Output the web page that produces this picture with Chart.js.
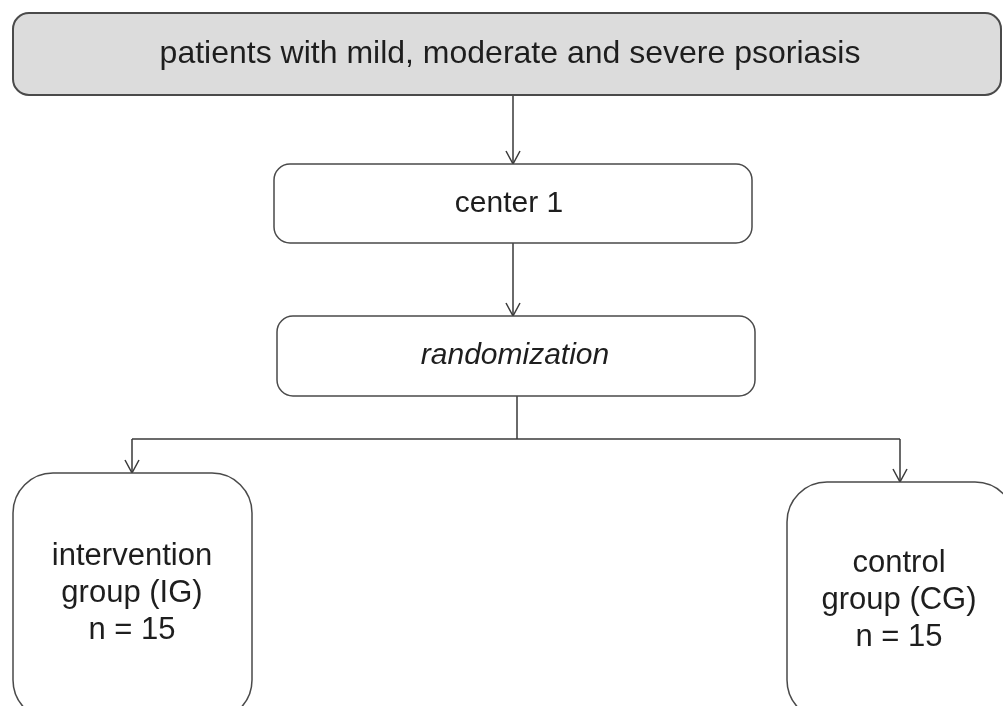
<!DOCTYPE html>
<html>
<head>
<meta charset="utf-8">
<script src="https://cdn.jsdelivr.net/npm/chart.js@4"></script>
<style>
  body { margin: 0; background: #fff; }
  #wrap { width: 1003px; height: 706px; }
</style>
</head>
<body>
<div id="wrap"><canvas id="flow" width="1003" height="706"></canvas></div>
<script>
// flowchart nodes (diagram units, y grows downward)
const nodeLines = [
  ["patients with mild, moderate and severe psoriasis"],
  ["center 1"],
  ["randomization"],
  ["intervention", "group (IG)", "n = 15"],
  ["control", "group (CG)", "n = 15"]
];
const nodeLeft   = [13, 274, 277, 13, 787];
const nodeRight  = [1001, 752, 755, 252, 1015];
const nodeTop    = [13, 164, 316, 473, 482];
const nodeBottom = [95, 243, 396, 720, 720];
const nodeTextX  = [510, 509, 515, 132, 899];
const nodeTextY  = [54, 204, 356, 593, 600];

// connectors: each is a polyline
const links = [
  [[513, 95], [513, 164]],
  [[513, 243], [513, 316]],
  [[517, 396], [517, 439]],
  [[132, 439], [900, 439]],
  [[132, 439], [132, 473]],
  [[900, 439], [900, 482]]
];
// arrow tips
const arrowTips = [[513, 164], [513, 316], [132, 473], [900, 482]];

const lineColor = '#3a3a3a';
const headLen = 13, headHalf = 7;

const datasets = links.map(l => ({
  data: l.map(p => ({ x: p[0], y: p[1] })),
  showLine: true, borderColor: lineColor, borderWidth: 1.5,
  pointRadius: 0, fill: false
}));
arrowTips.forEach(t => {
  datasets.push({
    data: [{ x: t[0] - headHalf, y: t[1] - headLen }, { x: t[0], y: t[1] }, { x: t[0] + headHalf, y: t[1] - headLen }],
    showLine: true, borderColor: lineColor, borderWidth: 1.5,
    pointRadius: 0, fill: false
  });
});

function roundRect(ctx, x0, y0, x1, y1, r) {
  ctx.beginPath();
  ctx.moveTo(x0 + r, y0);
  ctx.lineTo(x1 - r, y0);
  ctx.arcTo(x1, y0, x1, y0 + r, r);
  ctx.lineTo(x1, y1 - r);
  ctx.arcTo(x1, y1, x1 - r, y1, r);
  ctx.lineTo(x0 + r, y1);
  ctx.arcTo(x0, y1, x0, y1 - r, r);
  ctx.lineTo(x0, y0 + r);
  ctx.arcTo(x0, y0, x0 + r, y0, r);
  ctx.closePath();
}

const fontSize = [32, 30, 30, 31, 31];

const boxesPlugin = {
  id: 'boxes',
  afterDatasetsDraw(chart) {
    const ctx = chart.ctx;
    const sx = chart.scales.x, sy = chart.scales.y;
    ctx.save();
    nodeLines.forEach((lines, i) => {
      const x0 = sx.getPixelForValue(nodeLeft[i]);
      const x1 = sx.getPixelForValue(nodeRight[i]);
      const y0 = sy.getPixelForValue(nodeTop[i]);
      const y1 = sy.getPixelForValue(nodeBottom[i]);
      const r = lines.length > 1 ? 40 : 16;
      roundRect(ctx, x0, y0, x1, y1, r);
      ctx.fillStyle = i === 0 ? '#dcdcdc' : '#ffffff';
      ctx.fill();
      ctx.lineWidth = i === 0 ? 2 : 1.5;
      ctx.strokeStyle = '#4a4a4a';
      ctx.stroke();

      const px = sx.getPixelForValue(nodeTextX[i]);
      const lh = 37;
      ctx.fillStyle = '#1e1e1e';
      ctx.textAlign = 'center';
      ctx.textBaseline = 'middle';
      ctx.font = (i === 2 ? 'italic ' : '') + fontSize[i] + 'px "Liberation Sans", Arial, sans-serif';
      lines.forEach((t, k) => {
        const py = sy.getPixelForValue(nodeTextY[i] + (k - (lines.length - 1) / 2) * lh);
        ctx.fillText(t, px, py);
      });
    });
    ctx.restore();
  }
};

new Chart(document.getElementById('flow'), {
  type: 'scatter',
  data: { datasets },
  options: {
    responsive: false,
    animation: false,
    layout: { padding: 0 },
    plugins: { legend: { display: false }, tooltip: { enabled: false } },
    scales: {
      x: { type: 'linear', min: 0, max: 1003, display: false },
      y: { type: 'linear', min: 0, max: 706, reverse: true, display: false }
    }
  },
  plugins: [boxesPlugin]
});
</script>
</body>
</html>
